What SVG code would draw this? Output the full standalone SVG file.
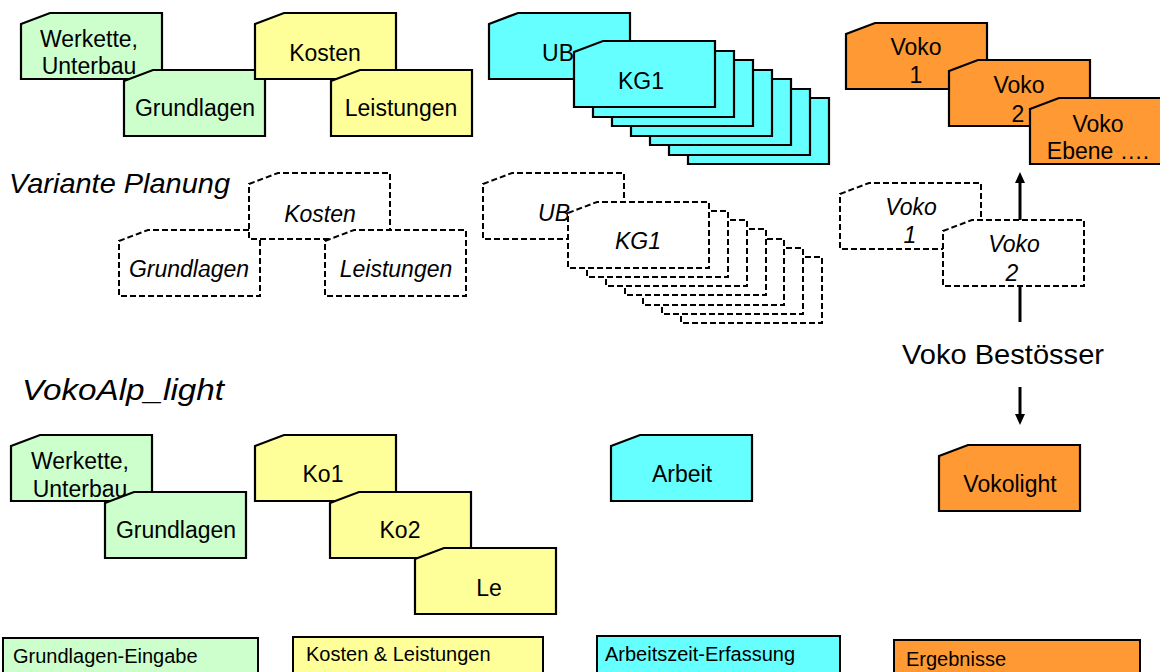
<svg xmlns="http://www.w3.org/2000/svg" xmlns:xlink="http://www.w3.org/1999/xlink" width="1160" height="672" viewBox="0 0 1160 672">
<style>
  .g{fill:#CCFFCC}
  .y{fill:#FFFF99}
  .c{fill:#66FFFF}
  .o{fill:#FF9933}
  .solid{stroke:#000;stroke-width:2.2;stroke-linejoin:miter}
  .dash{fill:#fff;stroke:#000;stroke-width:2;stroke-dasharray:6 3}
  text{font-family:"Liberation Sans",Arial,sans-serif;fill:#000}
  .lb{font-size:23px;text-anchor:middle}
  .it{font-size:23px;text-anchor:middle;font-style:italic}
  .hd{font-style:italic}
  .lg{font-size:20px}
  .leg{stroke:#000;stroke-width:2}
  .conn{stroke:#000;stroke-width:3;fill:none}
</style>
<defs>
  <path id="tab" d="M0,11 L29,0 L141,0 L141,66 L0,66 Z"/>
  <marker id="ah" markerUnits="userSpaceOnUse" markerWidth="12" markerHeight="12" refX="0" refY="5" orient="auto">
    <path d="M0,0 L11,5 L0,10 Z" fill="#000"/>
  </marker>
</defs>

<!-- Top row (Hauptvariante) -->
<g id="top-werkette"><use xlink:href="#tab" href="#tab" x="21" y="13" class="g solid"/><text class="lb" x="89" y="47">Werkette,</text><text class="lb" x="89" y="74">Unterbau</text></g>
<g id="top-grundlagen"><use xlink:href="#tab" href="#tab" x="124" y="70" class="g solid"/><text class="lb" x="195" y="116">Grundlagen</text></g>
<g id="top-kosten"><use xlink:href="#tab" href="#tab" x="255" y="13" class="y solid"/><text class="lb" x="325" y="61">Kosten</text></g>
<g id="top-leistungen"><use xlink:href="#tab" href="#tab" x="331" y="70" class="y solid"/><text class="lb" x="401" y="116">Leistungen</text></g>
<g id="top-ub"><use xlink:href="#tab" href="#tab" x="489" y="13" class="c solid"/><text class="lb" x="558" y="61">UB</text></g>
<g id="top-kg-stack">
  <use xlink:href="#tab" href="#tab" x="688" y="98" class="c solid"/>
  <use xlink:href="#tab" href="#tab" x="669" y="89" class="c solid"/>
  <use xlink:href="#tab" href="#tab" x="650" y="79" class="c solid"/>
  <use xlink:href="#tab" href="#tab" x="631" y="70" class="c solid"/>
  <use xlink:href="#tab" href="#tab" x="612" y="60" class="c solid"/>
  <use xlink:href="#tab" href="#tab" x="593" y="51" class="c solid"/>
</g>
<g id="top-kg1"><use xlink:href="#tab" href="#tab" x="574" y="41" class="c solid"/><text class="lb" x="641" y="89">KG1</text></g>
<g id="top-voko1"><use xlink:href="#tab" href="#tab" x="846" y="23" class="o solid"/><text class="lb" x="916" y="55">Voko</text><text class="lb" x="916" y="83">1</text></g>
<g id="top-voko2"><use xlink:href="#tab" href="#tab" x="949" y="60" class="o solid"/><text class="lb" x="1019" y="93">Voko</text><text class="lb" x="1018" y="122">2</text></g>
<g id="top-vokoebene"><use xlink:href="#tab" href="#tab" x="1030" y="98" class="o solid"/><text class="lb" x="1098" y="132">Voko</text><text class="lb" x="1098" y="159">Ebene ….</text></g>

<!-- Variante Planung -->
<text class="hd" x="9" y="193" font-size="28" textLength="221" lengthAdjust="spacingAndGlyphs">Variante Planung</text>
<g id="var-grundlagen"><use xlink:href="#tab" href="#tab" x="119" y="230" class="dash"/><text class="it" x="189" y="277">Grundlagen</text></g>
<g id="var-kosten"><use xlink:href="#tab" href="#tab" x="249" y="173" class="dash"/><text class="it" x="320" y="222">Kosten</text></g>
<g id="var-leistungen"><use xlink:href="#tab" href="#tab" x="325" y="230" class="dash"/><text class="it" x="396" y="277">Leistungen</text></g>
<g id="var-ub"><use xlink:href="#tab" href="#tab" x="483" y="173" class="dash"/><text class="it" x="554" y="221">UB</text></g>
<g id="var-kg-stack">
  <use xlink:href="#tab" href="#tab" x="681" y="257" class="dash"/>
  <use xlink:href="#tab" href="#tab" x="662" y="248" class="dash"/>
  <use xlink:href="#tab" href="#tab" x="643" y="239" class="dash"/>
  <use xlink:href="#tab" href="#tab" x="625" y="229" class="dash"/>
  <use xlink:href="#tab" href="#tab" x="606" y="220" class="dash"/>
  <use xlink:href="#tab" href="#tab" x="587" y="211" class="dash"/>
</g>
<g id="var-kg1"><use xlink:href="#tab" href="#tab" x="568" y="202" class="dash"/><text class="it" x="638" y="249">KG1</text></g>
<g id="var-voko1"><use xlink:href="#tab" href="#tab" x="840" y="183" class="dash"/><text class="it" x="911" y="215">Voko</text><text class="it" x="910" y="243">1</text></g>
<g id="var-voko2"><use xlink:href="#tab" href="#tab" x="943" y="220" class="dash"/><text class="it" x="1014" y="252">Voko</text><text class="it" x="1012" y="281">2</text></g>

<g id="bestoesser"><text x="902" y="364" font-size="28" textLength="202" lengthAdjust="spacingAndGlyphs">Voko Bestösser</text></g>

<!-- VokoAlp_light -->
<text class="hd" x="22" y="400" font-size="30" textLength="202" lengthAdjust="spacingAndGlyphs">VokoAlp_light</text>
<g id="light-werkette"><use xlink:href="#tab" href="#tab" x="11" y="435" class="g solid"/><text class="lb" x="80" y="469">Werkette,</text><text class="lb" x="80" y="497">Unterbau</text></g>
<g id="light-grundlagen"><use xlink:href="#tab" href="#tab" x="105" y="492" class="g solid"/><text class="lb" x="176" y="538">Grundlagen</text></g>
<g id="light-ko1"><use xlink:href="#tab" href="#tab" x="255" y="435" class="y solid"/><text class="lb" x="323" y="482">Ko1</text></g>
<g id="light-ko2"><use xlink:href="#tab" href="#tab" x="330" y="492" class="y solid"/><text class="lb" x="400" y="538">Ko2</text></g>
<g id="light-le"><use xlink:href="#tab" href="#tab" x="415" y="548" class="y solid"/><text class="lb" x="489" y="596">Le</text></g>
<g id="light-arbeit"><use xlink:href="#tab" href="#tab" x="611" y="435" class="c solid"/><text class="lb" x="682" y="482">Arbeit</text></g>
<g id="light-vokolight"><use xlink:href="#tab" href="#tab" x="939" y="445" class="o solid"/><text class="lb" x="1010" y="492">Vokolight</text></g>

<!-- Connectors -->
<g id="connectors">
  <line class="conn" x1="1020" y1="220" x2="1020" y2="183" marker-end="url(#ah)"/>
  <line class="conn" x1="1020" y1="286" x2="1020" y2="322"/>
  <line class="conn" x1="1020" y1="387" x2="1020" y2="414" marker-end="url(#ah)"/>
</g>

<!-- Legend -->
<g id="legend-grundlagen"><rect class="g leg" x="3" y="638" width="255" height="50"/><text class="lg" x="13" y="663">Grundlagen-Eingabe</text></g>
<g id="legend-kosten"><rect class="y leg" x="293" y="637" width="250" height="50"/><text class="lg" x="306" y="661">Kosten &amp; Leistungen</text></g>
<g id="legend-arbeit"><rect class="c leg" x="597" y="636" width="243" height="50"/><text class="lg" x="605" y="661">Arbeitszeit-Erfassung</text></g>
<g id="legend-ergebnisse"><rect class="o leg" x="894" y="640" width="246" height="50"/><text class="lg" x="906" y="666">Ergebnisse</text></g>
</svg>
